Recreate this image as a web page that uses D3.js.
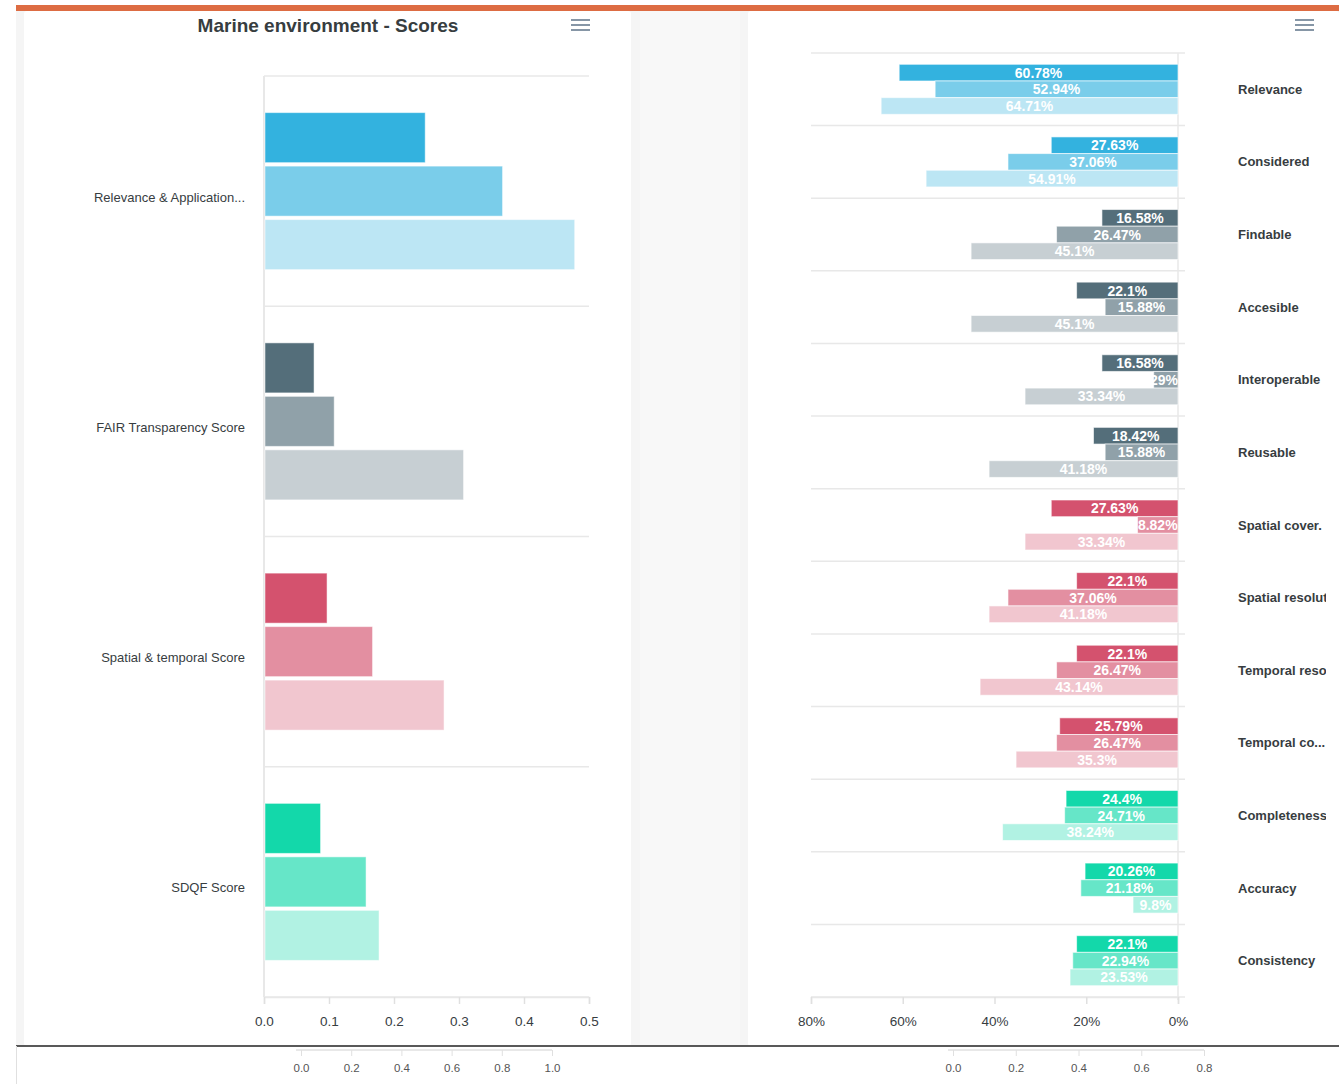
<!DOCTYPE html>
<html>
<head>
<meta charset="utf-8">
<script src="https://cdn.jsdelivr.net/npm/d3@7"></script>
<style>
  body { margin: 0; background: #fff; }
  svg { display: block; font-family: "Liberation Sans", Arial, Helvetica, sans-serif; }
</style>
</head>
<body>
<div id="chart"></div>
<script>
// --- datos: grafico izquierdo (scores) ---
const leftCats = ["Relevance & Application...", "FAIR Transparency Score", "Spatial & temporal Score", "SDQF Score"];
const leftS1 = [0.248, 0.077, 0.097, 0.087];
const leftS2 = [0.367, 0.108, 0.167, 0.157];
const leftS3 = [0.478, 0.307, 0.277, 0.177];
const leftTicks = [0, 0.1, 0.2, 0.3, 0.4, 0.5];

// --- datos: grafico derecho (porcentajes) ---
const rightCats = ["Relevance", "Considered", "Findable", "Accesible", "Interoperable", "Reusable",
  "Spatial cover.", "Spatial resolution", "Temporal resolution", "Temporal co...",
  "Completeness", "Accuracy", "Consistency"];
const rightGroup = [0, 0, 1, 1, 1, 1, 2, 2, 2, 2, 3, 3, 3];
const rightS1 = [60.78, 27.63, 16.58, 22.1, 16.58, 18.42, 27.63, 22.1, 22.1, 25.79, 24.4, 20.26, 22.1];
const rightS2 = [52.94, 37.06, 26.47, 15.88, 5.29, 15.88, 8.82, 37.06, 26.47, 26.47, 24.71, 21.18, 22.94];
const rightS3 = [64.71, 54.91, 45.1, 45.1, 33.34, 41.18, 33.34, 41.18, 43.14, 35.3, 38.24, 9.8, 23.53];
const rightTicks = [0, 20, 40, 60, 80];

// --- ejes del grafico inferior (cortado) ---
const bottomLeftTicks = [0, 0.2, 0.4, 0.6, 0.8, 1.0];
const bottomRightTicks = [0, 0.2, 0.4, 0.6, 0.8];

const groupColors = ["#33b2df", "#546e7a", "#d4526e", "#13d8aa"];
const seriesOpacity = [1, 0.65, 0.33];

function tint(hex, a) {
  const c = d3.rgb(hex);
  const mix = v => Math.round(v * a + 255 * (1 - a));
  return d3.rgb(mix(c.r), mix(c.g), mix(c.b)).formatHex();
}

const W = 1339, H = 1084;
const svg = d3.select("#chart").append("svg").attr("width", W).attr("height", H);

// fondo y tarjetas
svg.append("rect").attr("x", 16).attr("y", 11).attr("width", W - 16).attr("height", 1035).attr("fill", "#f5f5f5");
svg.append("rect").attr("x", 640).attr("y", 11).attr("width", 100).attr("height", 1035).attr("fill", "#f8f8f8");
svg.append("rect").attr("x", 24).attr("y", 11).attr("width", 607).attr("height", 1035).attr("fill", "#fff").attr("rx", 3);
svg.append("rect").attr("x", 748).attr("y", 11).attr("width", W - 748).attr("height", 1035).attr("fill", "#fff").attr("rx", 3);
svg.append("rect").attr("x", 16).attr("y", 5).attr("width", W - 16).attr("height", 6).attr("fill", "#dd6c43");

// menu hamburguesa
function menu(x, y) {
  [0, 5, 10].forEach(dy => {
    svg.append("line").attr("x1", x).attr("x2", x + 19).attr("y1", y + dy).attr("y2", y + dy)
      .attr("stroke", "#8696a6").attr("stroke-width", 2);
  });
}
menu(571, 20);
menu(1295, 20);

// titulo
svg.append("text").attr("x", 328).attr("y", 32).attr("text-anchor", "middle")
  .attr("font-size", 19).attr("font-weight", "bold").attr("fill", "#373d3f")
  .text("Marine environment - Scores");

// ================= grafico izquierdo =================
const L = { x0: 264, x1: 589, y0: 76, y1: 997 };
const xL = d3.scaleLinear().domain([0, 0.5]).range([L.x0, L.x1]);
const yL = d3.scaleBand().domain(leftCats).range([L.y0, L.y1]).padding(0);
const spanL = 157;
const ySubL = d3.scaleBand().domain([0, 1, 2]).range([0, spanL]).paddingInner(0.065);

const gL = svg.append("g");
// lineas de grilla
const bandsL = leftCats.map(c => yL(c)).concat([L.y1]);
gL.selectAll(".gridL").data(bandsL).join("line")
  .attr("x1", L.x0).attr("x2", L.x1)
  .attr("y1", d => d).attr("y2", d => d)
  .attr("stroke", "#e8e8e8").attr("stroke-width", 1.5);
gL.append("line").attr("x1", L.x0).attr("x2", L.x0).attr("y1", L.y0).attr("y2", L.y1)
  .attr("stroke", "#e8e8e8").attr("stroke-width", 2);

const leftRows = [];
leftCats.forEach((c, i) => {
  [leftS1, leftS2, leftS3].forEach((s, k) => {
    leftRows.push({ cat: c, k, v: s[i], color: tint(groupColors[i], seriesOpacity[k]) });
  });
});
gL.selectAll(".barL").data(leftRows).join("rect")
  .attr("x", xL(0) + 1)
  .attr("y", d => yL(d.cat) + (yL.bandwidth() - spanL) / 2 + ySubL(d.k))
  .attr("width", d => xL(d.v) - xL(0) - 1)
  .attr("height", ySubL.bandwidth())
  .attr("fill", d => d.color)
  .attr("stroke", "#fff").attr("stroke-opacity", 0.5).attr("stroke-width", 1);

gL.selectAll(".labL").data(leftCats).join("text")
  .attr("x", 245).attr("y", d => yL(d) + yL.bandwidth() / 2 + 6)
  .attr("dy", "0.35em").attr("text-anchor", "end")
  .attr("font-size", 13).attr("fill", "#373d3f")
  .text(d => d);

const axL = gL.append("g").attr("transform", `translate(0,${L.y1})`)
  .call(d3.axisBottom(xL).tickValues(leftTicks).tickFormat(d3.format(".1f")).tickSize(7).tickPadding(12));
axL.select(".domain").attr("stroke", "#e8e8e8").attr("stroke-width", 1.5);
axL.selectAll(".tick line").attr("stroke", "#e0e0e0").attr("stroke-width", 1.5);
axL.selectAll(".tick text").attr("font-size", 13.5).attr("fill", "#373d3f").attr("font-family", "Liberation Sans, Arial");

// ================= grafico derecho =================
const R = { x0: 811, x1: 1178, y0: 53, y1: 997 };
const xR = d3.scaleLinear().domain([0, 80]).range([R.x1, R.x0]);
const yR = d3.scaleBand().domain(rightCats).range([R.y0, R.y1]).padding(0);
const spanR = 50;
const ySubR = d3.scaleBand().domain([0, 1, 2]).range([0, spanR]).paddingInner(0);

const gR = svg.append("g");
const bandsR = rightCats.map(c => yR(c)).concat([R.y1]);
gR.selectAll(".gridR").data(bandsR).join("line")
  .attr("x1", R.x0).attr("x2", R.x1 + 7)
  .attr("y1", d => d).attr("y2", d => d)
  .attr("stroke", "#e8e8e8").attr("stroke-width", 1.5);
gR.append("line").attr("x1", R.x1).attr("x2", R.x1).attr("y1", R.y0).attr("y2", R.y1 + 3)
  .attr("stroke", "#e8e8e8").attr("stroke-width", 1.5);

const rightRows = [];
rightCats.forEach((c, i) => {
  [rightS1, rightS2, rightS3].forEach((s, k) => {
    rightRows.push({ cat: c, k, v: s[i], color: tint(groupColors[rightGroup[i]], seriesOpacity[k]) });
  });
});
const barY = d => yR(d.cat) + (yR.bandwidth() - spanR) / 2 + ySubR(d.k);
gR.selectAll(".barR").data(rightRows).join("rect")
  .attr("x", d => xR(d.v))
  .attr("y", barY)
  .attr("width", d => xR(0) - xR(d.v))
  .attr("height", ySubR.bandwidth())
  .attr("fill", d => d.color)
  .attr("stroke", "#fff").attr("stroke-opacity", 0.6).attr("stroke-width", 1);

// etiquetas de valores (blancas, centradas, ajustadas al borde)
gR.selectAll(".valR").data(rightRows).join("text")
  .attr("y", d => barY(d) + ySubR.bandwidth() / 2)
  .attr("dy", "0.36em").attr("text-anchor", "middle")
  .attr("font-size", 14).attr("font-weight", "bold").attr("fill", "#fff")
  .text(d => `${d.v}%`)
  .each(function (d) {
    const w = this.getComputedTextLength();
    let cx = (xR(d.v) + xR(0)) / 2;
    if (cx + w / 2 > R.x1) cx = R.x1 - w / 2;
    d3.select(this).attr("x", cx);
  });

// nombres de categorias (recortados como en la tarjeta)
svg.append("clipPath").attr("id", "clipLab")
  .append("rect").attr("x", 1230).attr("y", 40).attr("width", 96).attr("height", 960);
gR.append("g").attr("clip-path", "url(#clipLab)")
  .selectAll(".labR").data(rightCats).join("text")
  .attr("x", 1238).attr("y", d => yR(d) + yR.bandwidth() / 2)
  .attr("dy", "0.35em")
  .attr("font-size", 13).attr("font-weight", "bold").attr("fill", "#373d3f")
  .text(d => d);

const axR = gR.append("g").attr("transform", `translate(0,${R.y1})`)
  .call(d3.axisBottom(xR).tickValues(rightTicks).tickFormat(d => d + "%").tickSize(7).tickPadding(12));
axR.select(".domain").attr("stroke", "#e8e8e8").attr("stroke-width", 1.5);
axR.selectAll(".tick line").attr("stroke", "#e0e0e0").attr("stroke-width", 1.5);
axR.selectAll(".tick text").attr("font-size", 13.5).attr("fill", "#373d3f").attr("font-family", "Liberation Sans, Arial");

// ================= parte inferior (otro grafico cortado) =================
svg.append("rect").attr("x", 0).attr("y", 1047).attr("width", W).attr("height", H - 1047).attr("fill", "#fff");
svg.append("line").attr("x1", 16).attr("x2", W).attr("y1", 1046).attr("y2", 1046)
  .attr("stroke", "#222").attr("stroke-width", 1.5);
svg.append("line").attr("x1", 16.5).attr("x2", 16.5).attr("y1", 1046).attr("y2", H)
  .attr("stroke", "#e0e0e0").attr("stroke-width", 1);

function bottomAxis(ticks, r0, r1) {
  const sc = d3.scaleLinear().domain([ticks[0], ticks[ticks.length - 1]]).range([r0, r1]);
  const ax = svg.append("g").attr("transform", "translate(0,1050)")
    .call(d3.axisBottom(sc).tickValues(ticks).tickFormat(d3.format(".1f")).tickSize(6).tickPadding(8).tickSizeOuter(0));
  ax.select(".domain").attr("stroke", "#e0e0e0").attr("stroke-width", 1.5)
    .attr("d", `M${r0 - 5},0H${r1}`);
  ax.selectAll(".tick line").attr("stroke", "#e0e0e0");
  ax.selectAll(".tick text").attr("font-size", 11.5).attr("fill", "#555").attr("font-family", "Liberation Sans, Arial");
}
bottomAxis(bottomLeftTicks, 301, 552);
bottomAxis(bottomRightTicks, 953, 1204);
</script>
</body>
</html>
